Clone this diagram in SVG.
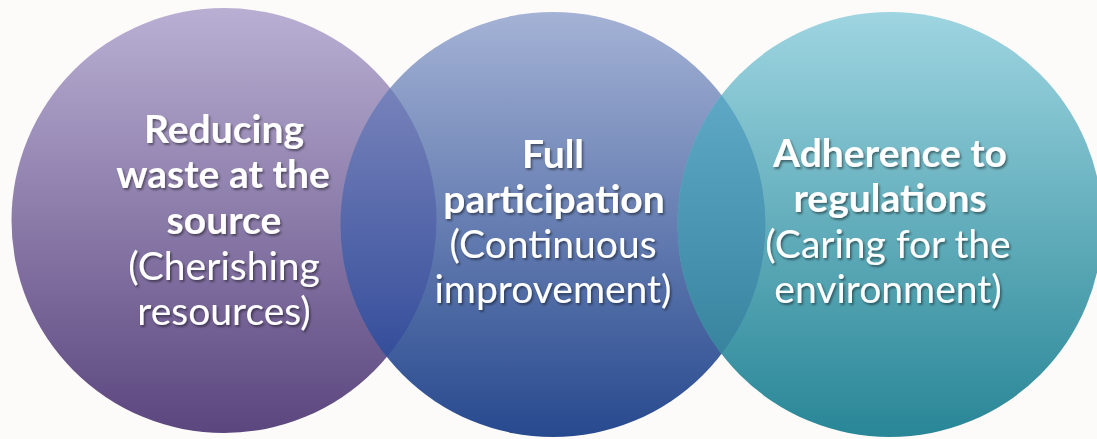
<svg xmlns="http://www.w3.org/2000/svg" width="1097" height="439" viewBox="0 0 1097 439">
  <defs>
    <linearGradient id="gLeft" gradientUnits="userSpaceOnUse" x1="0" y1="8" x2="0" y2="433">
      <stop offset="0" stop-color="#b9afd3"/>
      <stop offset="1" stop-color="#5b467e"/>
    </linearGradient>
    <linearGradient id="gMid" gradientUnits="userSpaceOnUse" x1="0" y1="12" x2="0" y2="437">
      <stop offset="0" stop-color="#a4b2d5"/>
      <stop offset="1" stop-color="#27498e"/>
    </linearGradient>
    <linearGradient id="gRight" gradientUnits="userSpaceOnUse" x1="0" y1="12" x2="0" y2="437">
      <stop offset="0" stop-color="#9ed5e1"/>
      <stop offset="1" stop-color="#288696"/>
    </linearGradient>
    <linearGradient id="gLensA" gradientUnits="userSpaceOnUse" x1="0" y1="88" x2="0" y2="357">
      <stop offset="0" stop-color="#7782ba"/>
      <stop offset="1" stop-color="#354e9b"/>
    </linearGradient>
    <linearGradient id="gLensB" gradientUnits="userSpaceOnUse" x1="0" y1="95" x2="0" y2="355">
      <stop offset="0" stop-color="#5ea8c6"/>
      <stop offset="1" stop-color="#38849f"/>
    </linearGradient>
    <clipPath id="clipLeft"><circle cx="224" cy="220.5" r="212.5"/></clipPath>
    <clipPath id="clipRight"><circle cx="890" cy="224.5" r="212.5"/></clipPath>
    <filter id="shadow" x="-10%" y="-20%" width="120%" height="140%">
      <feDropShadow dx="1.5" dy="2" stdDeviation="1.3" flood-color="#000" flood-opacity="0.45"/>
    </filter>
  </defs>
  <style>
    text { font-family: Lato, "Open Sans", sans-serif; fill: #ffffff; text-anchor: middle; font-size: 39px; }
    .b { font-weight: 700; }
    .r { font-weight: 400; }
  </style>

  <rect width="1097" height="439" fill="#fdfbfa"/>

  <!-- circles -->
  <g id="circle-left"><circle cx="224" cy="220.5" r="212.5" fill="url(#gLeft)"/></g>
  <g id="circle-middle"><circle cx="553" cy="224.5" r="212.5" fill="url(#gMid)"/></g>
  <g id="circle-right"><circle cx="890" cy="224.5" r="212.5" fill="url(#gRight)"/></g>

  <!-- overlaps -->
  <g id="overlap-left-middle"><circle cx="553" cy="224.5" r="212.5" fill="url(#gLensA)" clip-path="url(#clipLeft)"/></g>
  <g id="overlap-middle-right"><circle cx="553" cy="224.5" r="212.5" fill="url(#gLensB)" clip-path="url(#clipRight)"/></g>

  <!-- labels -->
  <g id="label-left" filter="url(#shadow)">
    <text class="b" x="224" y="143">Reducing</text>
    <text class="b" x="223" y="188">waste at the</text>
    <text class="b" x="224" y="234">source</text>
    <text class="r" x="224" y="280">(Cherishing</text>
    <text class="r" x="224" y="325">resources)</text>
  </g>
  <g id="label-middle" filter="url(#shadow)">
    <text class="b" x="553" y="168">Full</text>
    <text class="b" x="554" y="213">participation</text>
    <text class="r" x="553" y="258">(Continuous</text>
    <text class="r" x="553" y="303">improvement)</text>
  </g>
  <g id="label-right" filter="url(#shadow)">
    <text class="b" x="890" y="167">Adherence to</text>
    <text class="b" x="890" y="212">regulations</text>
    <text class="r" x="888" y="258">(Caring for the</text>
    <text class="r" x="888" y="303">environment)</text>
  </g>
</svg>
